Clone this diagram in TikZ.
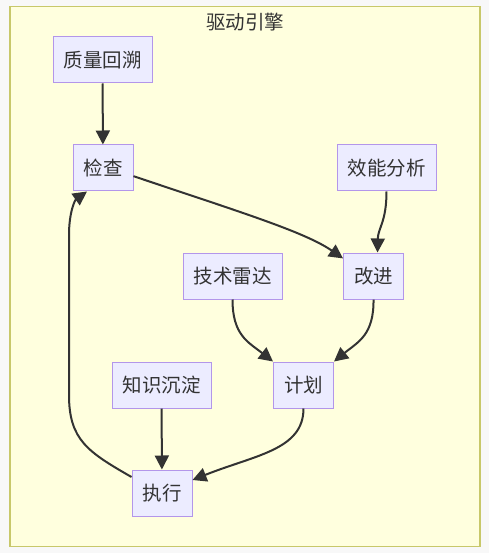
\documentclass[tikz,border=0pt]{standalone}
\usepackage{fontspec}
\setmainfont{Noto Sans CJK SC}
\usetikzlibrary{arrows.meta,calc}
\definecolor{pagegray}{HTML}{F8F8F8}
\definecolor{groupfill}{HTML}{FFFFDE}
\definecolor{groupline}{HTML}{C8C86A}
\definecolor{boxfill}{HTML}{ECECFF}
\definecolor{boxline}{HTML}{B396EA}
\definecolor{inkgray}{HTML}{333333}

\begin{document}
\begin{tikzpicture}[x=1pt,y=-1pt,
	box/.style={draw=boxline, fill=boxfill, line width=1pt, minimum height=46pt, inner sep=0pt, text=inkgray, font=\fontsize{19.5}{22}\selectfont},
	wide/.style={box, minimum width=99pt},
	narrow/.style={box, minimum width=60pt},
	flow/.style={draw=inkgray, line width=2pt, -{Triangle[length=14pt,width=14pt]}}]
		%%%%% START %%%%%
		
		\fill[pagegray] (0, 0) rectangle (489, 553);
		\draw[groupline, fill=groupfill, line width=1.5pt] (10, 6.5) rectangle (480, 546.5);
		\node[text=inkgray, font=\fontsize{19.5}{22}\selectfont] (title) at (245, 22) {驱动引擎};
		
		\node[wide] (trace) at (102.5, 60) {质量回溯};
		\node[narrow] (check) at (103, 168) {检查};
		\node[wide] (perf) at (386.5, 168) {效能分析};
		\node[wide] (radar) at (232.5, 276) {技术雷达};
		\node[narrow] (improve) at (373.5, 276) {改进};
		\node[wide] (wiki) at (161.5, 385) {知识沉淀};
		\node[narrow] (plan) at (303.5, 385) {计划};
		\node[narrow] (exec) at (162, 493) {执行};
		
		\draw[flow] (trace) -- (check);
		\draw[flow] (check.-15) .. controls (240, 212) and (305, 232) .. (improve.150);
		\draw[flow] (perf.south) .. controls (386.5, 222) and (378, 228) .. ($(improve.north)+(4, 0)$);
		
		\draw[flow] (radar.south) .. controls (232.5, 335) and (248, 342) .. (plan.north west);
		\draw[flow] (improve.south) .. controls (374, 335) and (358, 342) .. (plan.north east);
		
		\draw[flow] (wiki) -- (exec);
		\draw[flow] (plan.south) .. controls (303.5, 450) and (255, 455) .. ($(exec.east)+(0, -13)$);
		
		\draw[flow] ($(exec.west)+(0, -16)$) .. controls (88, 452) and (69, 440) .. (69, 395)
			-- (69, 235) .. controls (69, 212) and (75, 200) .. ($(check.south)+(-16, 0)$);
		
		%%%%% END %%%%%
	\end{tikzpicture}
\end{document}
